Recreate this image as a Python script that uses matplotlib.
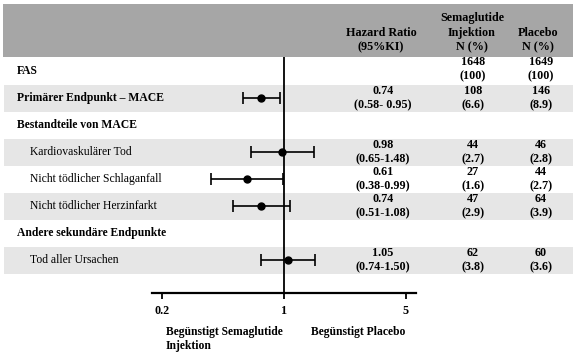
"""Forest plot: Semaglutide Injektion vs Placebo (MACE and components)."""

import matplotlib

matplotlib.use("Agg")
import matplotlib.pyplot as plt
from matplotlib.patches import Rectangle

plt.rcParams["font.family"] = ["Liberation Serif", "DejaVu Serif"]

# --- data ---------------------------------------------------------------
LABELS = [
    "FAS",
    "Primärer Endpunkt – MACE",
    "Bestandteile von MACE",
    "Kardiovaskulärer Tod",
    "Nicht tödlicher Schlaganfall",
    "Nicht tödlicher Herzinfarkt",
    "Andere sekundäre Endpunkte",
    "Tod aller Ursachen",
]
IS_HEADING = [True, True, True, False, False, False, True, False]
SHADED = [False, True, False, True, False, True, False, True]
HR = [None, 0.74, None, 0.98, 0.61, 0.74, None, 1.05]
CI_LO = [None, 0.58, None, 0.65, 0.38, 0.51, None, 0.74]
CI_HI = [None, 0.95, None, 1.48, 0.99, 1.08, None, 1.50]
CI_TEXT = ["", "(0.58- 0.95)", "", "(0.65-1.48)", "(0.38-0.99)", "(0.51-1.08)", "", "(0.74-1.50)"]
SEMA_N = ["1648", "108", "", "44", "27", "47", "", "62"]
SEMA_PCT = ["(100)", "(6.6)", "", "(2.7)", "(1.6)", "(2.9)", "", "(3.8)"]
PLAC_N = ["1649", "146", "", "46", "44", "64", "", "60"]
PLAC_PCT = ["(100)", "(8.9)", "", "(2.8)", "(2.7)", "(3.9)", "", "(3.6)"]
XTICKS = [0.2, 1, 5]
XTICKLABELS = ["0.2", "1", "5"]

# --- layout (pixels on a 581x360 canvas) --------------------------------
W, H = 581, 360
ROW0, STEP = 71, 27
AX_TOP, AX_BOT = 57, 293
AX_LEFT, AX_RIGHT = 152, 416
FS = 8.4

fig = plt.figure(figsize=(W / 100, H / 100), dpi=100)
bg = fig.add_axes([0, 0, 1, 1])
bg.set_xlim(0, W)
bg.set_ylim(H, 0)
bg.axis("off")

# header band
bg.add_patch(Rectangle((3, 4), 570, AX_TOP - 4, color="#a6a6a6", lw=0))
hdr = dict(ha="center", va="center", fontsize=FS + 0.3, fontweight="bold")
bg.text(381, 33, "Hazard Ratio", **hdr)
bg.text(381, 47, "(95%KI)", **hdr)
bg.text(472, 18, "Semaglutide", **hdr)
bg.text(472, 33, "Injektion", **hdr)
bg.text(472, 47, "N (%)", **hdr)
bg.text(538, 33, "Placebo", **hdr)
bg.text(538, 47, "N (%)", **hdr)

cell = dict(ha="center", va="center", fontsize=FS + 0.3, fontweight="bold")
for i, lab in enumerate(LABELS):
    yc = ROW0 + STEP * i
    if SHADED[i]:
        bg.add_patch(Rectangle((4, yc - 13), 569, 26.5, color="#e6e6e6", lw=0))
    if IS_HEADING[i]:
        bg.text(17, yc, lab, ha="left", va="center", fontsize=FS, fontweight="bold")
    else:
        bg.text(30, yc, lab, ha="left", va="center", fontsize=FS)
    if HR[i] is not None:
        bg.text(383, yc - 7, f"{HR[i]:.2f}", **cell)
        bg.text(383, yc + 7, CI_TEXT[i], **cell)
    if SEMA_N[i]:
        dy = -2 if i == 0 else 0
        bg.text(473, yc - 7 + dy, SEMA_N[i], **cell)
        bg.text(473, yc + 7 + dy, SEMA_PCT[i], **cell)
        bg.text(541, yc - 7 + dy, PLAC_N[i], **cell)
        bg.text(541, yc + 7 + dy, PLAC_PCT[i], **cell)

# forest axes
ax = fig.add_axes([AX_LEFT / W, 1 - AX_BOT / H, (AX_RIGHT - AX_LEFT) / W, (AX_BOT - AX_TOP) / H])
ax.patch.set_alpha(0)
ax.set_xscale("log")
ax.set_xlim(1 / 5.74, 5.74)
ax.set_ylim((AX_BOT - ROW0) / STEP, (AX_TOP - ROW0) / STEP)
for s in ("top", "left", "right"):
    ax.spines[s].set_visible(False)
ax.spines["bottom"].set_linewidth(1.6)
ax.axvline(1, color="black", lw=1.3)
ax.set_yticks([])
ax.set_xticks(XTICKS)
ax.set_xticklabels(XTICKLABELS, fontsize=FS + 0.3, fontweight="bold")
ax.xaxis.set_minor_locator(matplotlib.ticker.NullLocator())
ax.tick_params(axis="x", length=4, width=1.3, pad=5)

for i, h in enumerate(HR):
    if h is None:
        continue
    ax.errorbar(
        h, i,
        xerr=[[h - CI_LO[i]], [CI_HI[i] - h]],
        fmt="o", color="black", ms=5, lw=1.2, capsize=4.5, capthick=1.2,
    )

foot = dict(ha="left", va="center", fontsize=FS, fontweight="bold")
bg.text(166, 332, "Begünstigt Semaglutide", **foot)
bg.text(166, 346, "Injektion", **foot)
bg.text(311, 332, "Begünstigt Placebo", **foot)

fig.savefig("out.png", dpi=100)
